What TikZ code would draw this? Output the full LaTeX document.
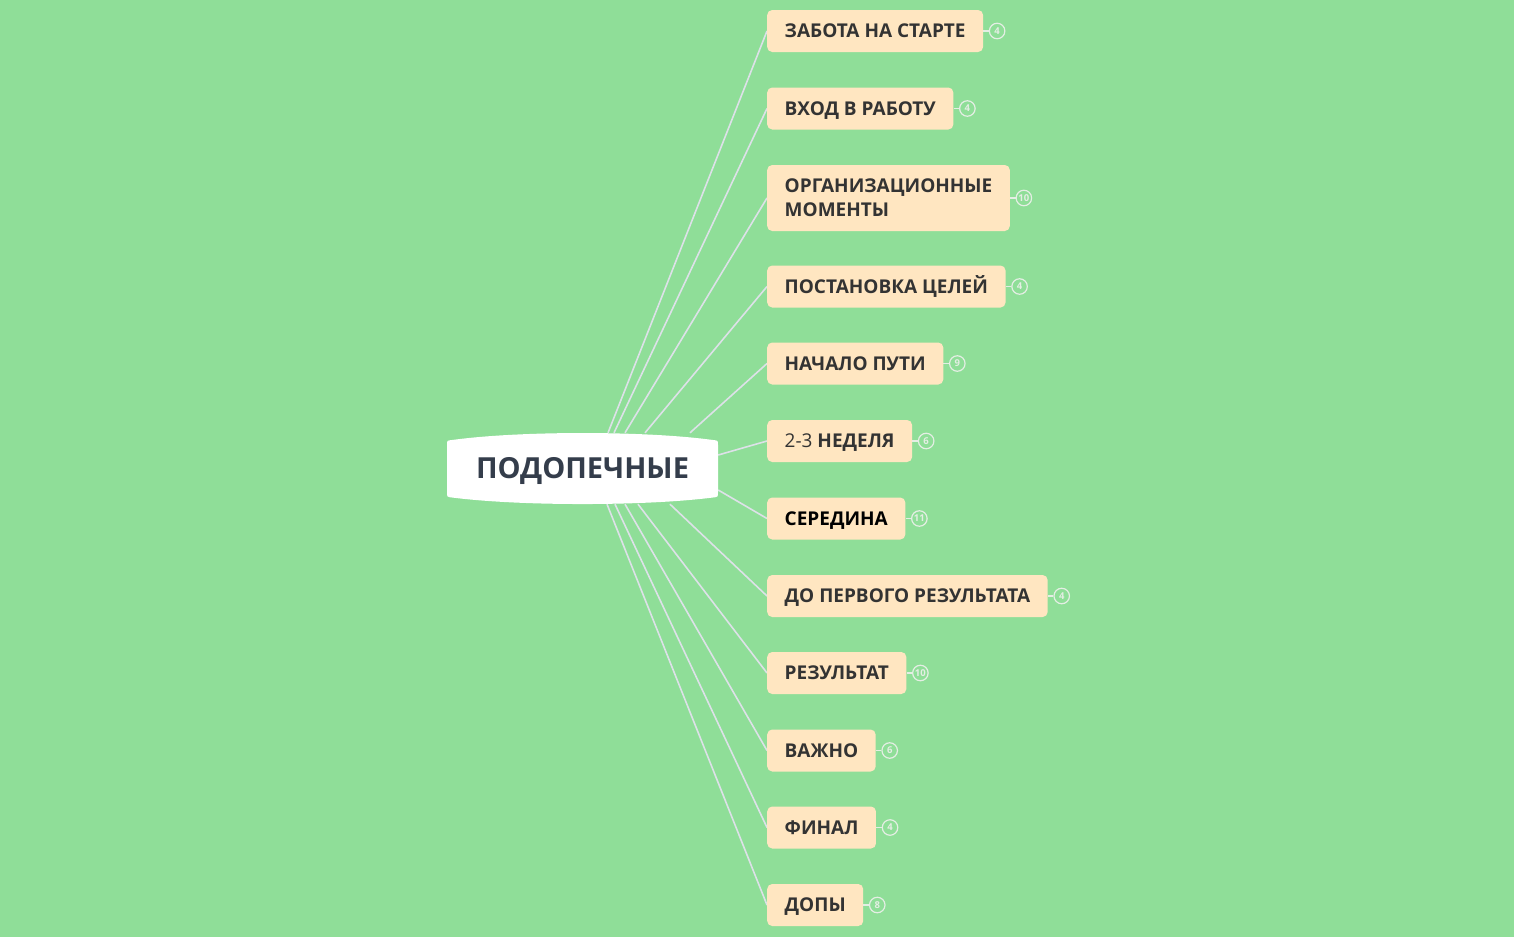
\documentclass[tikz,border=0pt]{standalone}
\usepackage{fontspec}
\setmainfont{Open Sans}
\usetikzlibrary{positioning,backgrounds}
\definecolor{mapgreen}{HTML}{8FDE98}
\definecolor{itemfill}{HTML}{FFE6C1}
\definecolor{itemtext}{HTML}{333333}
\definecolor{roottext}{HTML}{343D4B}
\definecolor{branchcol}{HTML}{DDE1E8}
\definecolor{countcol}{HTML}{E4EEE4}
\tikzset{
  item/.style={anchor=west, fill=itemfill, rounded corners=5pt, inner xsep=17.5pt,
    inner ysep=0pt, minimum height=42pt, text=itemtext, text height=13.6pt, text depth=0pt,
    font=\fontsize{19}{24}\selectfont\bfseries, align=left},
  count/.style={circle, draw=countcol, line width=1.2pt, minimum size=15.5pt,
    inner sep=0pt, text=countcol, font=\fontsize{9.5}{9.5}\selectfont\bfseries},
  branch/.style={draw=branchcol, line width=1.6pt},
  tie/.style={draw=countcol, line width=1.4pt}
}
\begin{document}
\begin{tikzpicture}[x=1pt,y=-1pt]
  \useasboundingbox (0,0) rectangle (1514,937);
  \node[minimum width=271pt, minimum height=71pt, text=roottext, text height=20.7pt, text depth=0pt,
    font=\fontsize{29}{32}\selectfont\bfseries] (root) at (582.5,468.5) {ПОДОПЕЧНЫЕ};
  \node[item] (start) at (767,31) {ЗАБОТА НА СТАРТЕ};
  \node[item] (entry) at (767,108.5) {ВХОД В РАБОТУ};
  \node[item, minimum height=66pt, text height=37.6pt] (org) at (767,198) {ОРГАНИЗАЦИОННЫЕ\\МОМЕНТЫ};
  \node[item] (goals) at (767,286.5) {ПОСТАНОВКА ЦЕЛЕЙ};
  \node[item] (path) at (767,363.5) {НАЧАЛО ПУТИ};
  \node[item] (week) at (767,441) {{\mdseries 2-3} НЕДЕЛЯ};
  \node[item, text=black] (middle) at (767,518.5) {СЕРЕДИНА};
  \node[item] (first) at (767,596) {ДО ПЕРВОГО РЕЗУЛЬТАТА};
  \node[item] (result) at (767,673) {РЕЗУЛЬТАТ};
  \node[item] (important) at (767,750.5) {ВАЖНО};
  \node[item] (final) at (767,827.5) {ФИНАЛ};
  \node[item] (extras) at (767,905) {ДОПЫ};
  % counts
  \node[count, right=5.5pt of start] (startn) {4};
  \node[count, right=5.5pt of entry] (entryn) {4};
  \node[count, right=5.5pt of org] (orgn) {10};
  \node[count, right=5.5pt of goals] (goalsn) {4};
  \node[count, right=5.5pt of path] (pathn) {9};
  \node[count, right=5.5pt of week] (weekn) {6};
  \node[count, right=5.5pt of middle] (middlen) {11};
  \node[count, right=5.5pt of first] (firstn) {4};
  \node[count, right=5.5pt of result] (resultn) {10};
  \node[count, right=5.5pt of important] (importantn) {6};
  \node[count, right=5.5pt of final] (finaln) {4};
  \node[count, right=5.5pt of extras] (extrasn) {8};
  \begin{scope}[tie]
    \draw (start) -- (startn);
    \draw (entry) -- (entryn);
    \draw (org) -- (orgn);
    \draw (goals) -- (goalsn);
    \draw (path) -- (pathn);
    \draw (week) -- (weekn);
    \draw (middle) -- (middlen);
    \draw (first) -- (firstn);
    \draw (result) -- (resultn);
    \draw (important) -- (importantn);
    \draw (final) -- (finaln);
    \draw (extras) -- (extrasn);
  \end{scope}
  \begin{scope}[on background layer]
    \fill[mapgreen] (0,0) rectangle (1514,937);
    \begin{scope}[branch]
      \draw (root.north -| 608,0) -- (start.west);
      \draw (root.north -| 614,0) -- (entry.west);
      \draw (root.north -| 625,0) -- (org.west);
      \draw (root.north -| 645,0) -- (goals.west);
      \draw (root.north -| 690,0) -- (path.west);
      \draw (root.east |- 0,455) -- (week.west);
      \draw (root.east |- 0,490) -- (middle.west);
      \draw (root.south -| 670,0) -- (first.west);
      \draw (root.south -| 638,0) -- (result.west);
      \draw (root.south -| 625,0) -- (important.west);
      \draw (root.south -| 615,0) -- (final.west);
      \draw (root.south -| 607,0) -- (extras.west);
    \end{scope}
    % root outline
    \fill[white] (452,440) .. controls (520,430.7) and (645,430.7) .. (713,440)
      .. controls (718,440.5) .. (718,445) -- (718,492)
      .. controls (718,497) .. (713,497.5)
      .. controls (645,506.2) and (520,506.2) .. (452,497.5)
      .. controls (447,497) .. (447,492) -- (447,445)
      .. controls (447,440.5) .. (452,440) -- cycle;
  \end{scope}
\end{tikzpicture}
\end{document}
